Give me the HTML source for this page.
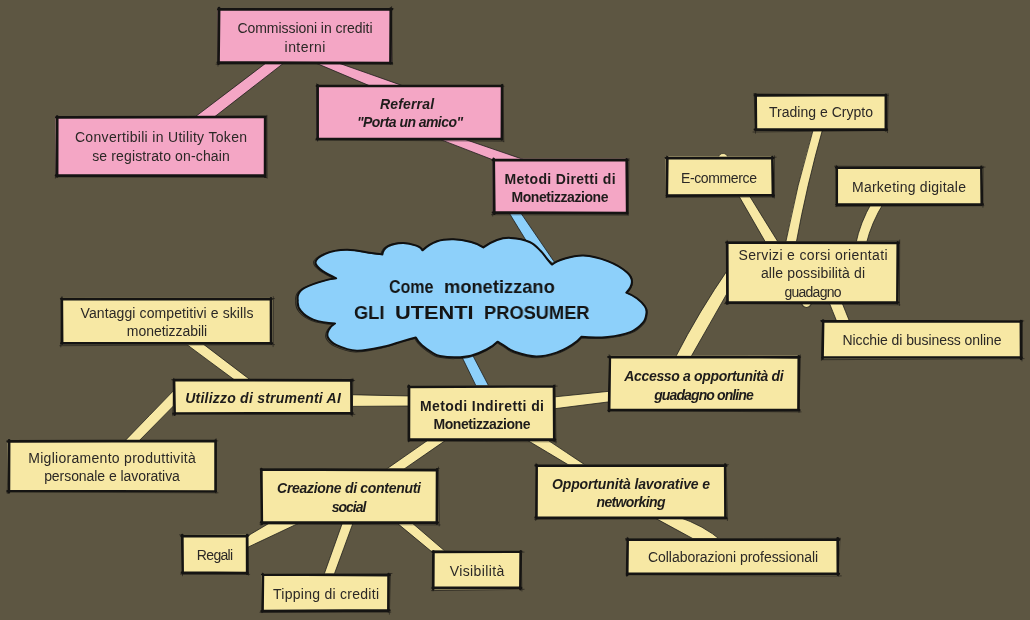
<!DOCTYPE html>
<html><head><meta charset="utf-8"><style>
*{margin:0;padding:0;box-sizing:border-box}
html,body{width:1030px;height:620px;overflow:hidden;background:#5d5642}
body{position:relative;font-family:"Liberation Sans",sans-serif}
svg{position:absolute;left:0;top:0}
.ce{stroke:#1a1a18;stroke-width:1;stroke-opacity:.75;fill:none}
.bs1{stroke:#151413;stroke-width:2.7;fill:none;stroke-linecap:round}
.bs2{stroke:#151413;stroke-width:1;fill:none;stroke-opacity:.55;stroke-linecap:round}
.bx{position:absolute;border:2px solid #161514}
.tx{position:absolute;will-change:transform;width:300px;height:20px;line-height:20px;text-align:center;white-space:nowrap;color:#2b2826}
.r{font-size:14px;font-weight:400}
.b{font-size:14px;font-weight:700;color:#1e1c1b}
.bi{font-size:14px;font-weight:700;font-style:italic;color:#1e1c1b}
.ct{position:absolute;will-change:transform;width:400px;text-align:center;font-weight:700;color:#141414;white-space:nowrap}
.cw{position:absolute;will-change:transform;transform-origin:0 0;height:24px;line-height:24px;font-size:19px;font-weight:700;color:#141414;white-space:nowrap}
</style></head><body>
<svg width="1030" height="620" viewBox="0 0 1030 620">
<path d="M507.6,210.4 Q518.1,227.5 528.6,244.6 L556.7,265.5 Q537.9,238.0 519.1,210.5 Z" fill="#8dd0fa"/>
<path d="M507.6,210.4 Q518.1,227.5 528.6,244.6" class="ce"/>
<path d="M519.1,210.5 Q537.9,238.0 556.7,265.5" class="ce"/>
<path d="M438.8,138.9 Q467.5,150.0 496.2,161.1 L526.5,160.5 Q495.2,149.8 463.8,139.0 Z" fill="#f4a6c5"/>
<path d="M438.8,138.9 Q467.5,150.0 496.2,161.1" class="ce"/>
<path d="M463.8,139.0 Q495.2,149.8 526.5,160.5" class="ce"/>
<path d="M312.9,61.8 Q341.0,73.7 369.2,85.6 L401.8,85.4 Q368.7,73.7 335.6,62.0 Z" fill="#f4a6c5"/>
<path d="M312.9,61.8 Q341.0,73.7 369.2,85.6" class="ce"/>
<path d="M335.6,62.0 Q368.7,73.7 401.8,85.4" class="ce"/>
<path d="M268.4,61.2 Q231.2,89.5 193.9,117.8 L213.3,117.8 Q249.7,89.5 286.1,61.2 Z" fill="#f4a6c5"/>
<path d="M268.4,61.2 Q231.2,89.5 193.9,117.8" class="ce"/>
<path d="M286.1,61.2 Q249.7,89.5 213.3,117.8" class="ce"/>
<path d="M459.7,352.3 Q468.3,370.0 476.9,387.7 L489.6,387.7 Q480.4,370.0 471.1,352.3 Z" fill="#8dd0fa"/>
<path d="M459.7,352.3 Q468.3,370.0 476.9,387.7" class="ce"/>
<path d="M471.1,352.3 Q480.4,370.0 489.6,387.7" class="ce"/>
<path d="M350.0,394.7 Q381.0,395.4 412.0,396.0 L412.0,406.0 Q381.0,406.2 350.0,406.4 Z" fill="#f7e8a4"/>
<path d="M350.0,394.7 Q381.0,395.4 412.0,396.0" class="ce"/>
<path d="M350.0,406.4 Q381.0,406.2 412.0,406.0" class="ce"/>
<path d="M183.3,341.9 Q208.8,360.9 234.4,379.8 L250.2,379.8 Q225.3,360.9 200.4,341.9 Z" fill="#f7e8a4"/>
<path d="M183.3,341.9 Q208.8,360.9 234.4,379.8" class="ce"/>
<path d="M200.4,341.9 Q225.3,360.9 250.2,379.8" class="ce"/>
<path d="M175.5,388.6 Q149.6,415.4 123.6,442.2 L137.8,442.1 Q156.7,423.0 175.5,403.9 Z" fill="#f7e8a4"/>
<path d="M175.5,388.6 Q149.6,415.4 123.6,442.2" class="ce"/>
<path d="M175.5,403.9 Q156.7,423.0 137.8,442.1" class="ce"/>
<path d="M429.2,439.3 Q406.7,455.0 384.2,470.7 L401.7,470.7 Q424.4,455.0 447.1,439.3 Z" fill="#f7e8a4"/>
<path d="M429.2,439.3 Q406.7,455.0 384.2,470.7" class="ce"/>
<path d="M447.1,439.3 Q424.4,455.0 401.7,470.7" class="ce"/>
<path d="M270.4,522.5 Q257.4,530.2 244.4,537.9 L244.3,548.9 Q272.1,535.8 299.8,522.7 Z" fill="#f7e8a4"/>
<path d="M270.4,522.5 Q257.4,530.2 244.4,537.9" class="ce"/>
<path d="M299.8,522.7 Q272.1,535.8 244.3,548.9" class="ce"/>
<path d="M343.0,521.2 Q333.2,548.8 323.4,576.3 L333.5,576.3 Q343.6,548.8 353.7,521.2 Z" fill="#f7e8a4"/>
<path d="M343.0,521.2 Q333.2,548.8 323.4,576.3" class="ce"/>
<path d="M353.7,521.2 Q343.6,548.8 333.5,576.3" class="ce"/>
<path d="M395.9,522.1 Q414.9,537.8 433.9,553.5 L447.8,553.6 Q429.4,537.8 411.0,522.0 Z" fill="#f7e8a4"/>
<path d="M395.9,522.1 Q414.9,537.8 433.9,553.5" class="ce"/>
<path d="M411.0,522.0 Q429.4,537.8 447.8,553.6" class="ce"/>
<path d="M524.4,438.5 Q547.8,452.5 571.2,466.5 L587.7,466.7 Q566.4,452.5 545.1,438.3 Z" fill="#f7e8a4"/>
<path d="M524.4,438.5 Q547.8,452.5 571.2,466.5" class="ce"/>
<path d="M545.1,438.3 Q566.4,452.5 587.7,466.7" class="ce"/>
<path d="M652.4,516.6 Q674.8,528.8 697.1,540.9 L721.6,540.9 Q704.5,525.8 677.4,516.6 Z" fill="#f7e8a4"/>
<path d="M652.4,516.6 Q674.8,528.8 697.1,540.9" class="ce"/>
<path d="M677.4,516.6 Q704.5,525.8 721.6,540.9" class="ce"/>
<path d="M552.4,397.1 Q582.1,394.1 611.8,391.0 L611.8,401.5 Q582.1,405.2 552.4,409.0 Z" fill="#f7e8a4"/>
<path d="M552.4,397.1 Q582.1,394.1 611.8,391.0" class="ce"/>
<path d="M552.4,409.0 Q582.1,405.2 611.8,401.5" class="ce"/>
<path d="M675.3,357.6 Q699.1,311.1 729.0,267.9 L729.0,289.9 Q709.8,323.8 690.5,357.6 Z" fill="#f7e8a4"/>
<path d="M675.3,357.6 Q699.1,311.1 729.0,267.9" class="ce"/>
<path d="M690.5,357.6 Q709.8,323.8 729.0,289.9" class="ce"/>
<path d="M737.2,193.0 Q751.8,218.3 766.3,243.6 L779.0,243.6 Q763.3,218.3 747.7,193.0 Z" fill="#f7e8a4"/>
<path d="M737.2,193.0 Q751.8,218.3 766.3,243.6" class="ce"/>
<path d="M747.7,193.0 Q763.3,218.3 779.0,243.6" class="ce"/>
<path d="M813.9,127.1 Q796.7,185.5 785.4,243.9 L796.0,243.9 Q806.6,185.5 823.2,127.1 Z" fill="#f7e8a4"/>
<path d="M813.9,127.1 Q796.7,185.5 785.4,243.9" class="ce"/>
<path d="M823.2,127.1 Q806.6,185.5 796.0,243.9" class="ce"/>
<path d="M872.1,202.0 Q860.0,222.9 855.8,243.8 L866.3,243.8 Q871.2,222.9 884.2,202.0 Z" fill="#f7e8a4"/>
<path d="M872.1,202.0 Q860.0,222.9 855.8,243.8" class="ce"/>
<path d="M884.2,202.0 Q871.2,222.9 866.3,243.8" class="ce"/>
<path d="M828.5,300.9 Q832.8,311.6 837.1,322.3 L849.9,322.3 Q845.6,311.6 841.3,300.9 Z" fill="#f7e8a4"/>
<path d="M828.5,300.9 Q832.8,311.6 837.1,322.3" class="ce"/>
<path d="M841.3,300.9 Q845.6,311.6 849.9,322.3" class="ce"/>
<path d="M718.6,157.5 A4.5,4 0 0 1 727.6,157.5 Z" fill="#f7e8a4" stroke="#1a1a18" stroke-width="1" stroke-opacity=".6"/>
<path d="M801.5,302 A5,5.5 0 0 0 811.5,302 Z" fill="#f7e8a4" stroke="#1a1a18" stroke-width="1.2" stroke-opacity=".8"/>
<path d="M297.8,300.2 C297.0,296.0 298.5,292.4 302.4,289.3 C306.3,286.2 315.4,283.4 321.0,281.6 C326.6,279.8 331.7,278.7 336.2,278.3 C324.4,272.9 317.6,268.1 315.8,264.0 C314.0,259.9 320.1,256.2 325.3,253.8 C330.5,251.4 339.3,249.8 347.0,249.7 C354.7,249.6 365.6,252.3 371.5,253.1 C377.4,253.9 381.0,254.4 382.4,254.5 C382.7,251.0 384.5,248.2 387.9,246.3 C391.3,244.4 398.1,243.0 402.8,242.9 C407.6,242.8 413.1,244.4 416.4,245.6 C419.7,246.8 421.8,248.4 422.7,250.3 C427.2,246.1 432.1,243.1 437.2,241.3 C442.3,239.5 447.8,239.2 453.5,239.3 C459.2,239.4 466.2,240.7 471.2,242.0 C476.2,243.3 480.2,245.2 483.4,247.4 C487.9,244.1 492.5,241.6 497.0,240.0 C501.5,238.4 505.2,237.6 510.6,237.9 C516.0,238.2 524.6,239.8 529.6,242.0 C534.6,244.2 537.2,247.5 540.5,250.8 C543.8,254.1 547.4,259.4 549.3,261.7 C551.2,264.0 552.2,264.9 552.1,264.4 C554.9,262.1 559.0,260.2 564.2,258.7 C569.4,257.2 576.2,255.1 583.5,255.5 C590.8,255.9 600.4,258.3 607.7,261.1 C615.0,263.9 623.1,268.9 627.1,272.4 C631.1,275.9 632.0,278.7 631.9,282.1 C631.8,285.5 629.9,289.0 626.3,292.6 C630.2,294.1 633.7,295.9 636.8,298.2 C639.9,300.5 643.2,303.9 644.8,306.3 C646.4,308.7 646.8,310.0 646.5,312.7 C646.2,315.4 645.9,319.2 643.2,322.4 C640.5,325.6 636.2,329.7 630.3,332.1 C624.4,334.5 615.9,336.1 607.7,336.9 C599.5,337.7 590.7,337.6 581.3,336.8 C579.2,339.6 576.1,342.3 572.0,344.9 C567.9,347.5 562.5,350.7 556.5,352.6 C550.5,354.5 543.3,356.6 536.3,356.5 C529.3,356.4 519.8,353.5 514.6,351.8 C509.4,350.1 508.1,348.1 505.2,346.4 C502.3,344.7 499.8,343.1 497.5,341.7 C494.7,344.6 491.0,347.2 486.6,349.5 C482.2,351.8 476.2,354.4 471.0,355.7 C465.8,357.0 460.7,357.2 455.5,357.3 C450.3,357.4 443.8,356.7 440.0,356.0 C436.2,355.3 435.9,354.8 432.9,353.0 C429.9,351.2 424.9,347.8 422.0,345.2 C419.1,342.6 417.1,340.1 415.8,337.5 C411.9,338.5 407.2,339.8 401.8,341.4 C396.4,342.9 390.7,345.2 383.2,346.8 C375.7,348.4 364.6,351.0 356.8,350.7 C349.0,350.4 341.4,347.4 336.6,345.2 C331.8,343.0 329.3,340.1 328.0,337.5 C326.7,334.9 327.6,332.0 328.8,329.7 C330.0,327.4 332.0,325.3 335.0,323.5 C326.2,323.0 319.0,321.7 313.3,319.6 C307.6,317.5 303.5,314.2 300.9,311.0 C298.3,307.8 297.3,304.2 297.8,300.2 Z" fill="#8dd0fa" stroke="#111" stroke-width="2" stroke-linejoin="round"/>
<path d="M297.8,300.2 C297.0,296.0 298.5,292.4 302.4,289.3 C306.3,286.2 315.4,283.4 321.0,281.6 C326.6,279.8 331.7,278.7 336.2,278.3 C324.4,272.9 317.6,268.1 315.8,264.0 C314.0,259.9 320.1,256.2 325.3,253.8 C330.5,251.4 339.3,249.8 347.0,249.7 C354.7,249.6 365.6,252.3 371.5,253.1 C377.4,253.9 381.0,254.4 382.4,254.5 C382.7,251.0 384.5,248.2 387.9,246.3 C391.3,244.4 398.1,243.0 402.8,242.9 C407.6,242.8 413.1,244.4 416.4,245.6 C419.7,246.8 421.8,248.4 422.7,250.3 C427.2,246.1 432.1,243.1 437.2,241.3 C442.3,239.5 447.8,239.2 453.5,239.3 C459.2,239.4 466.2,240.7 471.2,242.0 C476.2,243.3 480.2,245.2 483.4,247.4 C487.9,244.1 492.5,241.6 497.0,240.0 C501.5,238.4 505.2,237.6 510.6,237.9 C516.0,238.2 524.6,239.8 529.6,242.0 C534.6,244.2 537.2,247.5 540.5,250.8 C543.8,254.1 547.4,259.4 549.3,261.7 C551.2,264.0 552.2,264.9 552.1,264.4 C554.9,262.1 559.0,260.2 564.2,258.7 C569.4,257.2 576.2,255.1 583.5,255.5 C590.8,255.9 600.4,258.3 607.7,261.1 C615.0,263.9 623.1,268.9 627.1,272.4 C631.1,275.9 632.0,278.7 631.9,282.1 C631.8,285.5 629.9,289.0 626.3,292.6 C630.2,294.1 633.7,295.9 636.8,298.2 C639.9,300.5 643.2,303.9 644.8,306.3 C646.4,308.7 646.8,310.0 646.5,312.7 C646.2,315.4 645.9,319.2 643.2,322.4 C640.5,325.6 636.2,329.7 630.3,332.1 C624.4,334.5 615.9,336.1 607.7,336.9 C599.5,337.7 590.7,337.6 581.3,336.8 C579.2,339.6 576.1,342.3 572.0,344.9 C567.9,347.5 562.5,350.7 556.5,352.6 C550.5,354.5 543.3,356.6 536.3,356.5 C529.3,356.4 519.8,353.5 514.6,351.8 C509.4,350.1 508.1,348.1 505.2,346.4 C502.3,344.7 499.8,343.1 497.5,341.7 C494.7,344.6 491.0,347.2 486.6,349.5 C482.2,351.8 476.2,354.4 471.0,355.7 C465.8,357.0 460.7,357.2 455.5,357.3 C450.3,357.4 443.8,356.7 440.0,356.0 C436.2,355.3 435.9,354.8 432.9,353.0 C429.9,351.2 424.9,347.8 422.0,345.2 C419.1,342.6 417.1,340.1 415.8,337.5 C411.9,338.5 407.2,339.8 401.8,341.4 C396.4,342.9 390.7,345.2 383.2,346.8 C375.7,348.4 364.6,351.0 356.8,350.7 C349.0,350.4 341.4,347.4 336.6,345.2 C331.8,343.0 329.3,340.1 328.0,337.5 C326.7,334.9 327.6,332.0 328.8,329.7 C330.0,327.4 332.0,325.3 335.0,323.5 C326.2,323.0 319.0,321.7 313.3,319.6 C307.6,317.5 303.5,314.2 300.9,311.0 C298.3,307.8 297.3,304.2 297.8,300.2 Z" fill="none" stroke="#111" stroke-width="1" stroke-opacity=".7" transform="translate(472 298) scale(1.008 1.012) translate(-472 -298) translate(-0.6 0.6)"/>
<rect x="217.7" y="8.0" width="174.3" height="56.0" fill="#f4a6c5"/>
<path d="M218.3,9.3 L391.8,9.2 M390.8,8.7 L390.5,63.4 M391.5,63.1 L217.9,62.6 M218.5,63.7 L219.1,8.2" class="bs1"/>
<path d="M217.8,9.4 L393.7,8.8 M391.6,6.5 L392.3,64.7 M392.8,63.8 L216.1,64.2 M218.0,66.1 L218.1,7.7" class="bs2"/>
<rect x="55.7" y="116.0" width="210.3" height="61.0" fill="#f4a6c5"/>
<path d="M56.3,117.3 L265.4,117.0 M265.2,117.0 L265.1,176.6 M265.2,175.6 L56.1,175.4 M57.1,176.3 L57.2,116.5" class="bs1"/>
<path d="M55.7,117.2 L266.5,116.1 M266.9,115.3 L267.1,178.3 M266.6,177.5 L55.4,176.9 M55.4,178.2 L56.9,115.9" class="bs2"/>
<rect x="316.7" y="85.0" width="186.3" height="55.0" fill="#f4a6c5"/>
<path d="M317.0,86.0 L502.0,85.8 M502.1,85.3 L501.9,139.4 M502.1,139.0 L317.0,138.9 M317.6,139.3 L317.6,85.4" class="bs1"/>
<path d="M316.7,86.1 L504.0,86.3 M502.7,84.2 L503.8,141.8 M503.7,141.2 L315.4,139.9 M317.6,141.2 L316.7,83.6" class="bs2"/>
<rect x="492.7" y="158.8" width="135.3" height="55.2" fill="#f4a6c5"/>
<path d="M492.9,160.1 L627.2,160.1 M626.7,159.4 L627.2,213.4 M627.5,213.1 L493.0,212.5 M494.3,213.7 L493.7,159.1" class="bs1"/>
<path d="M492.3,160.2 L628.9,160.2 M628.9,158.4 L628.1,214.8 M628.6,215.1 L491.4,214.7 M492.7,216.1 L493.3,157.8" class="bs2"/>
<rect x="754.7" y="94.0" width="132.3" height="37.0" fill="#f7e8a4"/>
<path d="M755.0,95.4 L886.0,95.0 M885.9,94.9 L885.9,130.2 M886.8,129.5 L754.9,129.6 M755.9,130.0 L755.6,94.5" class="bs1"/>
<path d="M754.0,93.9 L888.2,95.3 M888.1,93.7 L887.5,132.7 M887.8,130.5 L753.0,132.0 M755.5,133.3 L754.2,93.6" class="bs2"/>
<rect x="665.7" y="156.5" width="108.3" height="39.9" fill="#f7e8a4"/>
<path d="M666.3,157.9 L773.2,158.1 M772.4,157.1 L773.0,196.2 M773.6,195.4 L666.6,195.6 M666.8,196.0 L667.3,157.4" class="bs1"/>
<path d="M664.8,157.6 L776.1,157.2 M774.4,155.7 L774.3,198.1 M774.6,197.0 L665.8,197.4 M666.5,197.7 L666.5,156.0" class="bs2"/>
<rect x="835.7" y="166.2" width="147.3" height="39.3" fill="#f7e8a4"/>
<path d="M836.2,167.7 L982.0,167.6 M981.4,166.9 L981.8,204.7 M982.6,204.3 L836.4,204.7 M836.7,204.5 L836.7,167.0" class="bs1"/>
<path d="M834.4,166.2 L985.1,167.1 M983.1,166.3 L982.9,207.3 M983.9,205.7 L835.5,206.5 M836.8,206.8 L836.2,165.3" class="bs2"/>
<rect x="726.2" y="241.4" width="172.6" height="62.6" fill="#f7e8a4"/>
<path d="M726.5,242.6 L898.5,242.9 M897.8,242.4 L897.4,303.1 M898.2,302.6 L726.5,302.7 M727.5,303.4 L727.2,242.3" class="bs1"/>
<path d="M726.3,241.9 L899.4,241.2 M899.7,240.0 L899.4,305.6 M899.9,304.8 L724.5,303.6 M726.5,304.6 L727.2,240.3" class="bs2"/>
<rect x="821.7" y="320.3" width="200.3" height="38.7" fill="#f7e8a4"/>
<path d="M822.0,321.1 L1021.5,321.5 M1020.9,321.0 L1021.1,358.8 M1021.6,357.5 L822.3,357.5 M822.5,358.4 L823.1,320.6" class="bs1"/>
<path d="M820.5,320.6 L1023.8,320.9 M1022.4,320.2 L1022.0,361.0 M1024.1,358.6 L821.7,359.7 M821.4,360.4 L822.3,320.4" class="bs2"/>
<rect x="608.2" y="355.8" width="191.4" height="55.3" fill="#f7e8a4"/>
<path d="M608.7,357.1 L799.3,357.3 M798.8,356.4 L798.5,410.2 M799.2,410.2 L608.9,410.1 M609.1,410.9 L609.8,356.8" class="bs1"/>
<path d="M607.5,356.9 L800.7,357.1 M800.4,354.9 L799.0,412.5 M801.1,411.9 L607.4,410.6 M609.2,411.8 L609.1,354.6" class="bs2"/>
<rect x="408.0" y="385.4" width="147.2" height="55.5" fill="#f7e8a4"/>
<path d="M408.5,386.9 L554.3,386.3 M554.0,386.2 L554.3,440.5 M555.0,439.7 L409.0,439.3 M408.9,440.3 L409.0,386.2" class="bs1"/>
<path d="M407.4,386.0 L557.2,386.1 M555.1,384.6 L556.0,443.1 M556.1,441.8 L408.0,441.2 M408.5,441.9 L408.5,384.8" class="bs2"/>
<rect x="173.0" y="379.2" width="179.7" height="35.6" fill="#f7e8a4"/>
<path d="M173.7,380.0 L352.5,380.4 M351.4,380.1 L351.6,414.2 M352.3,413.2 L173.6,413.5 M174.6,414.6 L174.0,379.8" class="bs1"/>
<path d="M171.5,379.7 L354.7,380.5 M352.9,378.3 L352.3,416.5 M354.9,414.4 L172.7,414.2 M172.8,415.8 L173.7,378.3" class="bs2"/>
<rect x="60.9" y="297.8" width="211.6" height="46.8" fill="#f7e8a4"/>
<path d="M61.4,299.1 L271.5,299.2 M271.0,298.4 L271.1,343.7 M271.9,343.3 L61.4,343.3 M62.1,343.7 L61.8,298.5" class="bs1"/>
<path d="M60.3,298.5 L274.5,298.6 M273.3,296.7 L273.1,346.7 M274.6,344.6 L59.8,345.7 M60.8,347.0 L62.0,296.5" class="bs2"/>
<rect x="7.5" y="440.0" width="209.0" height="52.5" fill="#f7e8a4"/>
<path d="M7.9,441.4 L215.7,440.8 M215.6,440.5 L215.6,491.6 M215.8,491.5 L7.7,491.0 M8.9,492.3 L9.1,440.3" class="bs1"/>
<path d="M6.7,441.1 L217.9,440.9 M216.1,438.6 L216.0,493.2 M218.0,492.8 L6.8,492.2 M7.3,493.5 L8.5,440.3" class="bs2"/>
<rect x="260.4" y="468.6" width="177.9" height="55.4" fill="#f7e8a4"/>
<path d="M261.4,469.4 L437.3,470.2 M437.1,469.4 L436.9,523.4 M437.7,522.7 L261.1,522.4 M261.8,523.7 L261.3,469.2" class="bs1"/>
<path d="M260.0,469.0 L439.2,468.6 M438.5,467.1 L439.2,526.0 M440.1,524.9 L259.8,524.1 M261.0,525.5 L261.7,468.5" class="bs2"/>
<rect x="181.2" y="534.5" width="66.8" height="39.5" fill="#f7e8a4"/>
<path d="M181.6,536.1 L247.6,536.0 M247.1,535.0 L247.2,573.7 M247.6,573.0 L182.0,572.7 M182.6,573.0 L182.3,535.1" class="bs1"/>
<path d="M179.5,534.8 L249.6,535.3 M247.7,534.7 L248.5,575.2 M249.7,574.4 L180.5,574.1 M182.5,575.8 L182.0,534.4" class="bs2"/>
<rect x="261.3" y="573.7" width="128.7" height="38.3" fill="#f7e8a4"/>
<path d="M262.3,574.5 L389.5,575.1 M388.6,574.2 L388.4,611.1 M389.3,610.4 L261.7,611.2 M262.5,611.4 L262.9,574.4" class="bs1"/>
<path d="M261.4,574.5 L392.0,573.5 M390.4,573.6 L389.4,614.3 M390.8,612.2 L259.9,612.3 M261.9,612.7 L262.5,573.0" class="bs2"/>
<rect x="432.3" y="550.7" width="89.5" height="38.8" fill="#f7e8a4"/>
<path d="M432.9,552.0 L521.1,551.7 M520.7,551.4 L520.4,589.1 M521.0,587.9 L432.7,587.9 M433.2,589.1 L433.4,551.7" class="bs1"/>
<path d="M431.9,550.5 L524.1,552.1 M521.2,550.8 L521.9,591.0 M524.1,589.3 L431.5,590.6 M433.1,590.9 L433.6,550.7" class="bs2"/>
<rect x="535.1" y="464.5" width="191.6" height="54.4" fill="#f7e8a4"/>
<path d="M535.8,465.4 L726.2,465.7 M725.2,464.7 L725.5,518.0 M726.0,517.9 L535.7,517.5 M536.4,518.2 L536.6,465.1" class="bs1"/>
<path d="M535.2,465.9 L728.5,464.6 M726.2,464.6 L727.4,520.6 M727.8,518.8 L534.6,519.3 M535.7,520.6 L536.0,463.3" class="bs2"/>
<rect x="626.4" y="538.1" width="212.9" height="37.3" fill="#f7e8a4"/>
<path d="M626.8,539.7 L839.1,539.6 M837.7,538.3 L837.9,574.7 M838.8,573.8 L627.0,573.8 M627.2,575.0 L627.6,538.8" class="bs1"/>
<path d="M625.4,538.7 L840.2,538.4 M839.9,538.1 L838.7,576.2 M841.3,575.9 L626.1,575.2 M626.7,576.5 L627.4,537.3" class="bs2"/>
</svg>
<div class="tx r" style="left:154.9px;top:18.0px;letter-spacing:-0.05px;text-indent:-0.05px">Commissioni in crediti</div>
<div class="tx r" style="left:154.9px;top:36.6px;letter-spacing:0.45px;text-indent:0.45px">interni</div>
<div class="tx r" style="left:10.8px;top:127.0px;letter-spacing:0.32px;text-indent:0.32px">Convertibili in Utility Token</div>
<div class="tx r" style="left:10.8px;top:146.0px;letter-spacing:0.14px;text-indent:0.14px">se registrato on-chain</div>
<div class="tx bi" style="left:256.9px;top:94.0px;letter-spacing:0.19px;text-indent:0.19px">Referral</div>
<div class="tx bi" style="left:259.9px;top:112.0px;letter-spacing:-0.55px;text-indent:-0.55px">"Porta un amico"</div>
<div class="tx b" style="left:410.4px;top:168.6px;letter-spacing:0.33px;text-indent:0.33px">Metodi Diretti di</div>
<div class="tx b" style="left:410.4px;top:187.0px;letter-spacing:-0.44px;text-indent:-0.44px">Monetizzazione</div>
<div class="tx r" style="left:670.9px;top:102.2px;letter-spacing:0.02px;text-indent:0.02px">Trading e Crypto</div>
<div class="tx r" style="left:568.9px;top:167.7px;letter-spacing:-0.37px;text-indent:-0.37px">E-commerce</div>
<div class="tx r" style="left:759.4px;top:176.5px;letter-spacing:0.25px;text-indent:0.25px">Marketing digitale</div>
<div class="tx r" style="left:662.5px;top:244.7px;letter-spacing:0.34px;text-indent:0.34px">Servizi e corsi orientati</div>
<div class="tx r" style="left:662.5px;top:263.4px;letter-spacing:0.12px;text-indent:0.12px">alle possibilità di</div>
<div class="tx r" style="left:662.5px;top:281.8px;letter-spacing:-0.76px;text-indent:-0.76px">guadagno</div>
<div class="tx r" style="left:771.9px;top:329.6px;letter-spacing:-0.08px;text-indent:-0.08px">Nicchie di business online</div>
<div class="tx bi" style="left:553.9px;top:366.2px;letter-spacing:-0.34px;text-indent:-0.34px">Accesso a opportunità di</div>
<div class="tx bi" style="left:553.9px;top:385.2px;letter-spacing:-0.88px;text-indent:-0.88px">guadagno online</div>
<div class="tx b" style="left:331.6px;top:395.8px;letter-spacing:0.41px;text-indent:0.41px">Metodi Indiretti di</div>
<div class="tx b" style="left:331.6px;top:414.2px;letter-spacing:-0.44px;text-indent:-0.44px">Monetizzazione</div>
<div class="tx bi" style="left:112.9px;top:388.1px;letter-spacing:0.23px;text-indent:0.23px">Utilizzo di strumenti AI</div>
<div class="tx r" style="left:16.7px;top:303.4px;letter-spacing:0.10px;text-indent:0.10px">Vantaggi competitivi e skills</div>
<div class="tx r" style="left:16.7px;top:321.3px;letter-spacing:-0.04px;text-indent:-0.04px">monetizzabili</div>
<div class="tx r" style="left:-38.0px;top:447.9px;letter-spacing:0.29px;text-indent:0.29px">Miglioramento produttività</div>
<div class="tx r" style="left:-38.0px;top:466.2px;letter-spacing:-0.06px;text-indent:-0.06px">personale e lavorativa</div>
<div class="tx bi" style="left:199.4px;top:478.0px;letter-spacing:-0.30px;text-indent:-0.30px">Creazione di contenuti</div>
<div class="tx bi" style="left:199.4px;top:496.5px;letter-spacing:-1.00px;text-indent:-1.00px">social</div>
<div class="tx r" style="left:64.6px;top:545.1px;letter-spacing:-0.68px;text-indent:-0.68px">Regali</div>
<div class="tx r" style="left:175.6px;top:583.6px;letter-spacing:0.27px;text-indent:0.27px">Tipping di crediti</div>
<div class="tx r" style="left:327.0px;top:561.0px;letter-spacing:0.37px;text-indent:0.37px">Visibilità</div>
<div class="tx bi" style="left:480.9px;top:473.7px;letter-spacing:-0.13px;text-indent:-0.13px">Opportunità lavorative e</div>
<div class="tx bi" style="left:480.9px;top:491.9px;letter-spacing:-0.63px;text-indent:-0.63px">networking</div>
<div class="tx r" style="left:582.9px;top:546.7px;letter-spacing:-0.04px;text-indent:-0.04px">Collaborazioni professionali</div>
<div class="cw" style="left:388.9px;top:274.5px;transform:scaleX(0.841)">Come</div>
<div class="cw" style="left:443.8px;top:274.5px;transform:scaleX(0.963)">monetizzano</div>
<div class="cw" style="left:354.0px;top:301.0px;transform:scaleX(0.959)">GLI</div>
<div class="cw" style="left:394.9px;top:301.0px;transform:scaleX(1.146)">UTENTI</div>
<div class="cw" style="left:484.0px;top:301.0px;transform:scaleX(0.961)">PROSUMER</div>
</body></html>
